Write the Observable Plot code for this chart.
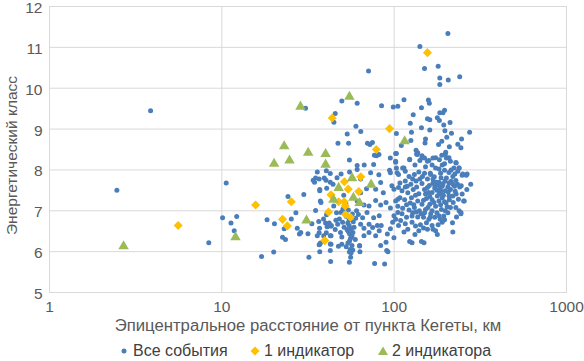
<!DOCTYPE html>
<html>
<head>
<meta charset="utf-8">
<script src="https://cdn.jsdelivr.net/npm/d3@7"></script>
<script src="https://cdn.jsdelivr.net/npm/@observablehq/plot@0.6"></script>
<style>
body{margin:0;background:#fff;font-family:"Liberation Sans",Arial,sans-serif;}
#legend{position:relative;width:584px;height:23px;font-size:16px;color:#404040;}
#legend .it{position:absolute;top:4px;height:18px;display:flex;align-items:center;white-space:nowrap;}
#legend svg{margin-right:4px;}
</style>
</head>
<body>
<div id="chart"></div>
<div id="legend"></div>
<script>
const xTicks = [1, 10, 100, 1000];
const yTicks = [5, 6, 7, 8, 9, 10, 11, 12];
const seriesNames = ["Все события", "1 индикатор", "2 индикатора"];
const xLabel = "Эпицентральное расстояние от пункта Кегеты, км";
const yLabel = "Энергетический класс";

// Все события: [distance km, energy class]
const allEvents = [
[2.46,7.50],[3.86,9.45],[8.4,6.22],[10.1,6.83],[10.6,7.68],[11.3,6.70],[11.8,6.51],[12.2,6.86],
[17.0,5.88],[18.3,6.78],[20.0,5.99],[20.2,6.68],[24.2,7.35],[26.9,6.95],[25.3,6.80],[22.5,6.35],
[23.4,6.30],[23,6.56],[27.4,6.57],[28.2,6.43],
[205,11.34],[141,11.02],[150,10.48],[180,10.54],[184,10.25],[206,10.20],[184,10.09],[240,10.28],[71,10.42],
[49.7,9.69],[61,9.63],[30.6,9.51],[84.5,9.57],[98.8,9.54],[105,9.56],[114,9.72],[158,9.71],[160,9.63],
[144,9.52],[196,9.46],[192,9.40],[184,9.40],[129,9.35],[45.5,9.38],[44.7,9.17],[156,9.25],[161,9.23],
[178,9.28],[183,9.21],[211,9.16],[194,9.10],[124,9.14],[144,9.03],[161,8.98],[126,8.92],[60,9.07],
[64,8.94],[103,8.89],[197,8.96],[215,8.90],[274,8.92],[202,8.80],[246,8.76],[53.4,8.88],[47.2,8.65],
[54.4,8.65],[70,8.65],[74.8,8.67],[72.3,8.62],[81.6,8.38],[76.8,8.36],[152,8.76],[151,8.66],[125,8.72],
[181,8.62],[189,8.70],[209,8.57],[234,8.63],[244,8.54],[199,8.43],[134,8.48],[137,8.42],[110,8.60],
[102,8.40],[55,8.24],[95,8.29],[103,8.40],[102,8.19],[123,8.25],[135,8.39],[145,8.35],[150,8.29],
[156,8.21],[141,8.23],[168,8.29],[189,8.36],[201,8.29],[212,8.21],[229,8.17],[238,8.05],[250,7.90],
[265,7.90],[61,8.11],[67,8.12],[76,8.13],[79,8.35],[94,7.99],[103,8.05],[114,8.05],[35.8,7.95],[36.7,7.78],
[32,5.86],[42.8,5.76],[55,5.74],[77,5.71],[88,5.70],[90.5,6.03],[63,6.14],[55,5.99],[37,6.0],[37,6.18],
[42.6,6.03],[47.5,6.13],
[29.9,7.40],[34.5,7.70],[35,7.80],[28.7,6.47],[31.6,6.44],[33.3,6.68],[36.5,6.74],[36.9,6.57],[35.8,6.39],
[37.3,6.21],[37.6,7.20],[40.5,6.90],[42,6.70],[43.2,6.64],[40.8,6.61],[42.6,6.39],[42.6,6.19],[40.4,6.46],
[40.6,7.55],[44.2,7.65],[40.2,7.75],[37,7.52],[42.6,7.91],[46.6,7.81],
[33.9,7.75],[40.4,7.98],[49.2,7.90],[37,7.49],[37.3,7.24],[35,7.01],[40,6.70],[38.9,6.80],[36.7,6.46],
[43,6.62],[45.9,6.77],[47,6.67],[45.5,6.54],[43,6.39],[48.8,6.47],[49.7,6.36],[49.2,6.96],[52.7,6.86],
[54.8,6.78],[57.9,6.73],[54.8,6.64],[56.3,6.56],[53.3,6.54],[55.1,6.44],[56.9,6.38],[55.1,6.26],[56.9,6.15],
[55.6,6.05],[52.7,6.12],[63,6.15],[62,6.91],[65.6,6.83],[69.6,6.96],[63.9,6.67],[71.5,6.67],[76,6.83],
[81.9,6.88],[84.1,6.64],[81.9,6.51],[91.3,6.43],[78.1,6.39],[71.5,6.47],[66.8,6.39],[61,7.24],[66.8,7.14],
[71.5,7.12],[78.1,7.25],[83.5,7.14],[89.7,7.20],[95.1,7.07],[99.7,6.88],[98,6.72],[95.1,6.56],[99.7,6.34],
[83.5,7.69],[78.1,7.53],[86.5,7.44],[97,7.61],[95.1,7.93],[81.5,7.88],[73,7.93],[51,7.38],[44.6,7.28],
[44.6,7.12],[50.4,7.04],[63.9,7.44],[69.1,7.54],[61,8.01],[55.1,7.95],[63.9,7.78],[42.6,7.70],[39.3,7.80],
[39,6.39],[36.7,6.17],[43,6.18],[49.7,6.18],[89.7,6.23],[83.5,6.15],[92,6.00],[63.3,6.00],[56.3,5.97],
[66.8,6.57],[79.9,6.64],[75,6.59],[104,7.93],[105,7.28],[105,6.96],[99.7,7.53],
[54.2,7.02],[57.2,6.92],[53.8,6.70],[58.5,6.60],[54.1,6.50],[57.6,6.47],[55.8,6.33],[53.9,6.21],[57.5,6.04],
[55.9,5.86],[59.5,6.30],[51.2,6.60],[59.8,6.82],[48.1,6.80],[50.2,6.72],[60.5,7.00],[46.3,6.95],[52.4,7.18],
[123,8.26],[136,8.38],[145,8.30],[159,8.23],[183,8.25],[198,8.38],[208,8.30],[228,8.18],[238,8.05],[262,7.87],
[278,7.65],[102,8.21],[112,8.05],[132,8.12],[139,7.95],[150,7.92],[163,7.89],[174,8.05],[190,8.12],[196,7.99],
[208,7.94],[219,7.84],[228,7.74],[233,7.65],[245,7.61],[219,7.65],[208,7.68],[197,7.73],[187,7.81],[180,7.63],
[168,7.68],[156,7.57],[145,7.67],[134,7.73],[125,7.65],[116,7.73],[108,7.68],[106,7.57],[111,7.49],[120,7.44],
[129,7.52],[139,7.42],[152,7.41],[166,7.45],[183,7.42],[198,7.49],[212,7.52],[229,7.41],[219,7.36],[253,7.24],
[228,7.08],[238,7.00],[244,6.93],[200,7.19],[182,7.24],[174,7.11],[161,7.16],[148,7.26],[137,7.24],[126,7.32],
[115,7.27],[108,7.32],[102,7.24],[105,7.11],[112,7.06],[122,7.02],[131,7.08],[140,7.00],[152,7.03],[163,6.93],
[177,6.95],[188,7.03],[194,6.87],[185,6.79],[172,6.84],[159,6.79],[148,6.84],[137,6.85],[127,6.87],[118,6.84],
[109,6.76],[102,6.79],[106,6.64],[116,6.68],[127,6.72],[133,6.63],[142,6.66],[154,6.71],[166,6.64],[180,6.66],
[190,6.72],[174,6.51],[178,6.42],[219,6.48],[123,6.25],[127,6.22],[144,6.25],[149,6.22],[248,7.41],[264,7.52],
[234,7.97],[248,7.87],[222,8.05],[174,8.30],[166,8.12],[152,8.08],[116,7.97],[106,7.89],[122,7.84],[131,7.89],
[156,7.78],[171,7.83],[172,7.55],[190,7.60],[205,7.58],[135,7.58],[116,7.58],[124,7.19],[145,7.16],[166,7.27],
[190,7.32],[209,7.27],[212,7.08],[198,7.00],[166,7.00],[134,6.97],[111,6.93],[218,6.71],[139,6.51],[156,6.55],
[114,6.48],[244,6.96],[255,7.24],
[168,7.78],[176,7.70],[184,7.55],[192,7.66],[201,7.80],[214,7.72],[224,7.60],[206,7.46],[193,7.38],[177,7.50],
[161,7.35],[150,7.52],[141,7.78],[128,7.78],[119,7.60],[160,7.62],[170,7.20],[157,7.08],[143,6.93],[128,6.95],
[118,7.15],[133,7.38],[186,7.15],[203,7.10],[220,7.20],[236,7.28],[240,7.58],[225,7.90],[214,8.00],[186,7.92],
[150,6.95],[162,6.85],[182,6.88],[196,6.78],[205,6.95],[230,6.85],[120,6.55],[132,6.42],[148,6.58],[168,6.55],
[178,7.36],[188,7.48],[196,7.22],[172,7.62],[182,7.70],[158,7.45],[208,7.36],[226,7.48],[162,7.92],[146,7.84],
[196,8.15],[182,8.02],[130,7.15],[154,7.30]
];

// 1 индикатор
const oneIndicator = [
[5.58,6.64],[15.7,7.14],[22.5,6.79],[24,6.63],[25.3,7.22],[39.6,6.27],[41.6,6.97],[43.0,7.39],[43.7,9.27],
[47.6,7.22],[51.3,7.22],[52,7.12],[51.4,7.71],[54.1,7.53],[52.2,6.91],[55.7,6.84],[62.3,7.47],[64,7.83],
[78.8,8.50],[94,9.01],[156,10.87]
];

// 2 индикатора
const twoIndicators = [
[2.69,6.13],[12.0,6.35],[20.1,8.15],[23,8.58],[24.7,8.23],[28.6,9.55],[31.7,8.42],[40,8.39],[40,8.13],
[31,6.76],[47.6,7.56],[57,7.80],[44.4,7.27],[58,7.32],[63,7.19],[73.5,7.64],[55,9.79],[115,8.70]
];

const colors = ["#4A7EBB", "#FFC000", "#9BBB59"];

const chart = Plot.plot({
  width: 584,
  height: 338,
  marginTop: 6,
  marginLeft: 49,
  marginRight: 18,
  marginBottom: 46,
  style: {fontFamily: "'Liberation Sans', Arial, sans-serif", fontSize: "15.5px", color: "#595959", background: "#fff", overflow: "visible"},
  x: {type: "log", domain: [1, 1000]},
  y: {domain: [5, 12]},
  marks: [
    Plot.gridX(xTicks, {stroke: "#d9d9d9", strokeOpacity: 1}),
    Plot.gridY(yTicks, {stroke: "#d9d9d9", strokeOpacity: 1}),
    Plot.frame({stroke: "#d9d9d9"}),
    Plot.axisX(xTicks, {tickSize: 0, tickPadding: 8, tickFormat: d => String(d), fontSize: 15.5,
      label: xLabel, labelAnchor: "center", labelArrow: "none", labelOffset: 38}),
    Plot.axisY(yTicks, {tickSize: 0, tickPadding: 7, fontSize: 15.5, dy: 1.5,
      label: yLabel, labelAnchor: "center", labelArrow: "none", labelOffset: 44}),
    Plot.dot(allEvents, {x: d => d[0], y: d => d[1], r: 2.5, fill: colors[0], stroke: "none"}),
    Plot.dot(oneIndicator, {x: d => d[0], y: d => d[1], r: 4.1, symbol: "diamond2", fill: colors[1], stroke: "none"}),
    Plot.dot(twoIndicators, {x: d => d[0], y: d => d[1], r: 3.9, symbol: "triangle", fill: colors[2], stroke: "none"})
  ]
});
document.getElementById("chart").appendChild(chart);
const yl = chart.querySelector('[aria-label="y-axis label"]');
if (yl) {
  const t = yl.getAttribute("transform") || "";
  yl.setAttribute("transform", "translate(0,6) " + t);
}
const xl = chart.querySelector('[aria-label="x-axis label"]');
if (xl) xl.setAttribute("font-size", "16.7");

// legend
const lg = document.getElementById("legend");
const pos = [119, 250, 378];
const shapes = [
  '<svg width="10" height="12" viewBox="-5 -6 10 12"><circle r="2.5" fill="' + colors[0] + '"/></svg>',
  '<svg width="10" height="12" viewBox="-5 -6 10 12"><path d="M0,-4.5L4.5,0L0,4.5L-4.5,0Z" fill="' + colors[1] + '"/></svg>',
  '<svg width="10" height="12" viewBox="-5 -6 10 12"><path d="M0,-4.5L5,4L-5,4Z" fill="' + colors[2] + '"/></svg>'
];
seriesNames.forEach((n, i) => {
  const s = document.createElement("div");
  s.className = "it";
  s.style.left = pos[i] + "px";
  s.innerHTML = shapes[i] + '<span>' + n + '</span>';
  lg.appendChild(s);
});
</script>
</body>
</html>
